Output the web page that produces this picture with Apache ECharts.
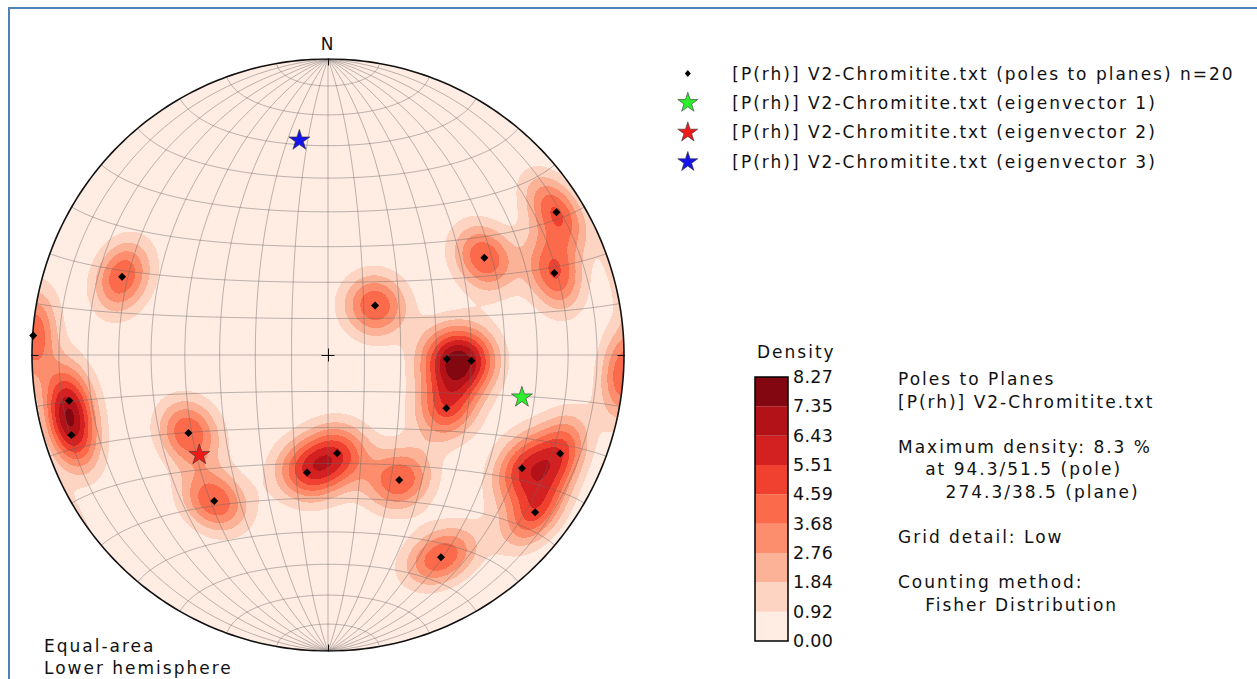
<!DOCTYPE html>
<html>
<head>
<meta charset="utf-8">
<title>Poles to Planes - V2-Chromitite</title>
<script src="https://cdn.jsdelivr.net/npm/echarts@6/dist/echarts.min.js"></script>
<style>
  html, body { margin: 0; padding: 0; background: #fff; overflow: hidden; }
  #chart { width: 1257px; height: 679px; }
  #chart svg text { letter-spacing: 2px; }
  #chart svg text[style*="17.5px"] { letter-spacing: 0.3px; }
  #frame {
    position: absolute; left: 8px; top: 7px; right: 0; bottom: 0;
    border-left: 2px solid #4f81bd; border-top: 2px solid #4f81bd;
    pointer-events: none;
  }
</style>
</head>
<body>
<div id="chart"></div>
<div id="frame"></div>
<script>
// poles to planes, trend / plunge in degrees (lower hemisphere)
const poleTrend = [58.0, 70.1, 58.1, 290.8, 43.5, 273.8, 91.9, 92.3, 114.2, 260.0,
                   252.7, 240.8, 217.9, 190.1, 174.7, 150.3, 120.3, 113.0, 127.2, 150.8];
const polePlunge = [9.9, 19.8, 37.8, 26.5, 71.2, 0.2, 57.0, 49.9, 53.9, 12.2,
                    10.1, 45.1, 37.5, 56.9, 62.7, 49.8, 25.1, 15.9, 13.2, 22.8];

const eigenTrend = [102.3, 232.2, 352.4];
const eigenPlunge = [33.4, 44.2, 27.7];
const eigenColors = ['#2cee2c', '#ee1a1a', '#1414e6'];

const poleLabel = '[P(rh)] V2-Chromitite.txt (poles to planes) n=20';
const eigenLabels = [
  '[P(rh)] V2-Chromitite.txt (eigenvector 1)',
  '[P(rh)] V2-Chromitite.txt (eigenvector 2)',
  '[P(rh)] V2-Chromitite.txt (eigenvector 3)'
];

const densityTicks = ['0.00', '0.92', '1.84', '2.76', '3.68', '4.59', '5.51', '6.43', '7.35', '8.27'];
const densityColors = ['#ffece3', '#fdd4c2', '#fcb297', '#fc8e6e', '#fb6a4a',
                       '#f0402f', '#d32020', '#b21218', '#830711'];
const maxDensity = 8.27;
const kappa = 87;   // fisher concentration used for counting

const infoLines = [
  'Poles to Planes',
  '[P(rh)] V2-Chromitite.txt',
  '',
  'Maximum density: 8.3 %',
  '    at 94.3/51.5 (pole)',
  '       274.3/38.5 (plane)',
  '',
  'Grid detail: Low',
  '',
  'Counting method:',
  '    Fisher Distribution'
];

const rad = Math.PI / 180;
const FONT = '"DejaVu Sans", sans-serif';

// equal-area (schmidt) projection of a unit vector (east, north, down)
function toXY(e, n, d) {
  if (d < 0) { e = -e; n = -n; d = -d; }
  const s = 1 / Math.sqrt(1 + d);
  return [e * s, n * s];
}
function lineToVec(trend, plunge) {
  const t = trend * rad, p = plunge * rad;
  return [Math.cos(p) * Math.sin(t), Math.cos(p) * Math.cos(t), Math.sin(p)];
}
function project(trend, plunge) {
  const v = lineToVec(trend, plunge);
  return toXY(v[0], v[1], v[2]);
}

// net: great circles through N/S and small circles about the N-S axis
const netCurves = [];
for (let dip = 10; dip < 90; dip += 10) {
  [1, -1].forEach((side) => {
    const pts = [];
    for (let a = 0; a <= 180; a += 2) {
      const c = Math.cos(a * rad), s = Math.sin(a * rad);
      pts.push(toXY(side * s * Math.cos(dip * rad), c, s * Math.sin(dip * rad)));
    }
    netCurves.push({ coords: pts });
  });
}
netCurves.push({ coords: [[0, 1], [0, -1]] });
for (let alpha = 10; alpha < 180; alpha += 10) {
  const pts = [];
  for (let f = 0; f <= 180; f += 2) {
    pts.push(toXY(Math.sin(alpha * rad) * Math.cos(f * rad), Math.cos(alpha * rad),
                  Math.sin(alpha * rad) * Math.sin(f * rad)));
  }
  netCurves.push({ coords: pts });
}

const primitive = [];
for (let a = 0; a <= 360; a += 1) {
  primitive.push([Math.sin(a * rad), Math.cos(a * rad)]);
}
const tk = 0.022;
const ticks = [
  { coords: [[-tk, 0], [tk, 0]] }, { coords: [[0, -tk], [0, tk]] },
  { coords: [[-1 - tk, 0], [-1 + tk, 0]] }, { coords: [[1 - tk, 0], [1 + tk, 0]] },
  { coords: [[0, 1 - tk], [0, 1 + tk]] }, { coords: [[0, -1 - tk], [0, -1 + tk]] }
];

// fisher density counted on a fine grid, then packed into row runs per contour band
const cells = 592;
const cw = 2 / cells;
const poleVecs = poleTrend.map((t, i) => lineToVec(t, polePlunge[i]));
const raw = new Float64Array(cells * cells).fill(-1);
let maxRaw = 0;
for (let j = 0; j < cells; j++) {
  const y = -1 + (j + 0.5) * cw;
  for (let i = 0; i < cells; i++) {
    const x = -1 + (i + 0.5) * cw;
    const r2 = x * x + y * y;
    if (r2 > 1) continue;
    const d = 1 - r2;
    const s = Math.sqrt(1 + d);
    const e = x * s, n = y * s;
    let sum = 0;
    for (let k = 0; k < poleVecs.length; k++) {
      const v = poleVecs[k];
      sum += Math.exp(kappa * (Math.abs(e * v[0] + n * v[1] + d * v[2]) - 1));
    }
    raw[j * cells + i] = sum;
    if (sum > maxRaw) maxRaw = sum;
  }
}
const step = maxDensity / 9;
const densityRuns = [];
for (let j = 0; j < cells; j++) {
  let start = 0, cur = -1;
  for (let i = 0; i <= cells; i++) {
    let band = -1;
    if (i < cells) {
      const v = raw[j * cells + i];
      if (v >= 0) band = Math.min(8, Math.floor(v / maxRaw * maxDensity / step + 1e-9));
      if (band < 1) band = -1;
    }
    if (band !== cur) {
      if (cur > 0) {
        densityRuns.push([-1 + start * cw, -1 + i * cw, -1 + j * cw, -1 + (j + 1) * cw, cur]);
      }
      cur = band;
      start = i;
    }
  }
}

function starPath(cx, cy, R) {
  const r = R * 0.382;
  let d = '';
  for (let k = 0; k < 10; k++) {
    const a = k * Math.PI / 5;
    const rr = k % 2 ? r : R;
    d += (k ? 'L' : 'M') + (cx + rr * Math.sin(a)).toFixed(2) + ',' + (cy - rr * Math.cos(a)).toFixed(2);
  }
  return d + 'Z';
}
const starSymbol = 'path://M0,0 M22,22 ' + starPath(11, 11, 11);
const starIcon = 'path://M0,0 M50,21 ' + starPath(10.5, 10.5, 10.5);
const diamondIcon = 'path://M0,0 M50,21 M10.5,7 L13.5,10.5 L10.5,14 L7.5,10.5 Z';

const chart = echarts.init(document.getElementById('chart'), null, { renderer: 'svg' });

const series = [
  {
    type: 'custom', xAxisIndex: 0, yAxisIndex: 0, silent: true, z: 1,
    data: [[0, 0]],
    renderItem: (params, api) => {
      const c = api.coord([0, 0]);
      const e = api.coord([1, 0]);
      return { type: 'circle', shape: { cx: c[0], cy: c[1], r: e[0] - c[0] },
               style: { fill: densityColors[0] } };
    }
  },
  {
    type: 'custom', xAxisIndex: 0, yAxisIndex: 0, silent: true, z: 2,
    data: densityRuns,
    encode: { x: [0, 1], y: [2, 3] },
    renderItem: (params, api) => {
      const p0 = api.coord([api.value(0), api.value(3)]);
      const p1 = api.coord([api.value(1), api.value(2)]);
      return {
        type: 'rect',
        shape: { x: p0[0], y: p0[1], width: p1[0] - p0[0], height: p1[1] - p0[1] },
        style: { fill: densityColors[api.value(4)] }
      };
    }
  },
  {
    type: 'lines', coordinateSystem: 'cartesian2d', xAxisIndex: 0, yAxisIndex: 0,
    polyline: true, silent: true, z: 3, data: netCurves,
    lineStyle: { color: '#666', width: 0.6, opacity: 0.75 }
  },
  {
    type: 'lines', coordinateSystem: 'cartesian2d', xAxisIndex: 0, yAxisIndex: 0,
    polyline: true, silent: true, z: 4, data: [{ coords: primitive }],
    lineStyle: { color: '#111', width: 1.6, opacity: 1 }
  },
  {
    type: 'lines', coordinateSystem: 'cartesian2d', xAxisIndex: 0, yAxisIndex: 0,
    silent: true, z: 4, data: ticks,
    lineStyle: { color: '#111', width: 1, opacity: 1 }
  },
  {
    name: poleLabel, type: 'scatter', xAxisIndex: 0, yAxisIndex: 0, z: 5,
    symbol: 'diamond', symbolSize: 8,
    data: poleTrend.map((t, i) => project(t, polePlunge[i])),
    itemStyle: { color: '#000', opacity: 1 }
  }
];
eigenLabels.forEach((name, i) => {
  series.push({
    name: name, type: 'scatter', xAxisIndex: 0, yAxisIndex: 0, z: 6,
    symbol: starSymbol, symbolSize: 22,
    data: [project(eigenTrend[i], eigenPlunge[i])],
    itemStyle: { color: eigenColors[i], borderColor: '#333', borderWidth: 0.6, opacity: 1 }
  });
});
densityColors.forEach((c, k) => {
  series.push({
    name: 'band ' + k, type: 'bar', xAxisIndex: 1, yAxisIndex: 1, stack: 'colorbar',
    barWidth: '100%', silent: true, data: [1], itemStyle: { color: c }
  });
});

const indentPx = 6.8;
const infoText = infoLines.map((line, k) => {
  const indent = line.length - line.replace(/^ +/, '').length;
  return {
    type: 'text', x: 898 + indent * indentPx, y: 379 + k * 22.6,
    style: { text: line.trim(), font: '17px ' + FONT, fill: '#111',
             align: 'left', verticalAlign: 'middle' }
  };
}).filter((t) => t.style.text !== '');

const option = {
  animation: false,
  grid: [
    { left: 32, top: 59, width: 592, height: 592 },
    { left: 755, top: 377, width: 33, height: 264, show: true,
      borderColor: '#000', borderWidth: 1.5, z: 5 }
  ],
  xAxis: [
    { gridIndex: 0, type: 'value', min: -1, max: 1, show: false },
    { gridIndex: 1, type: 'category', data: ['density'], show: false }
  ],
  yAxis: [
    { gridIndex: 0, type: 'value', min: -1, max: 1, show: false },
    {
      gridIndex: 1, type: 'value', min: 0, max: 9, interval: 1, position: 'right', z: 6,
      axisLine: { show: false },
      axisTick: { inside: true, length: 6, lineStyle: { color: '#000', width: 1 } },
      splitLine: { show: false },
      axisLabel: {
        formatter: (v) => densityTicks[Math.round(v)],
        fontSize: 17.5, fontFamily: FONT, color: '#111', margin: 5
      }
    }
  ],
  legend: {
    orient: 'vertical', left: 677, top: 63, padding: 0,
    itemWidth: 50, itemHeight: 21, itemGap: 8, selectedMode: false,
    itemStyle: { borderWidth: 0.6, borderColor: '#333' },
    textStyle: { fontSize: 17, fontFamily: FONT, color: '#111' },
    data: [{ name: poleLabel, icon: diamondIcon, itemStyle: { borderWidth: 0 } }].concat(
      eigenLabels.map((n) => ({ name: n, icon: starIcon })))
  },
  graphic: [
    { type: 'text', x: 328, y: 44,
      style: { text: 'N', font: '17px ' + FONT, fill: '#111', align: 'center', verticalAlign: 'middle' } },
    { type: 'text', x: 44, y: 645.7,
      style: { text: 'Equal-area', font: '17px ' + FONT, fill: '#111', align: 'left', verticalAlign: 'middle' } },
    { type: 'text', x: 44, y: 668.3,
      style: { text: 'Lower hemisphere', font: '17px ' + FONT, fill: '#111', align: 'left', verticalAlign: 'middle' } },
    { type: 'text', x: 757, y: 351.5,
      style: { text: 'Density', font: '17px ' + FONT, fill: '#111', align: 'left', verticalAlign: 'middle' } }
  ].concat(infoText),
  series: series
};

chart.setOption(option);
</script>
</body>
</html>
